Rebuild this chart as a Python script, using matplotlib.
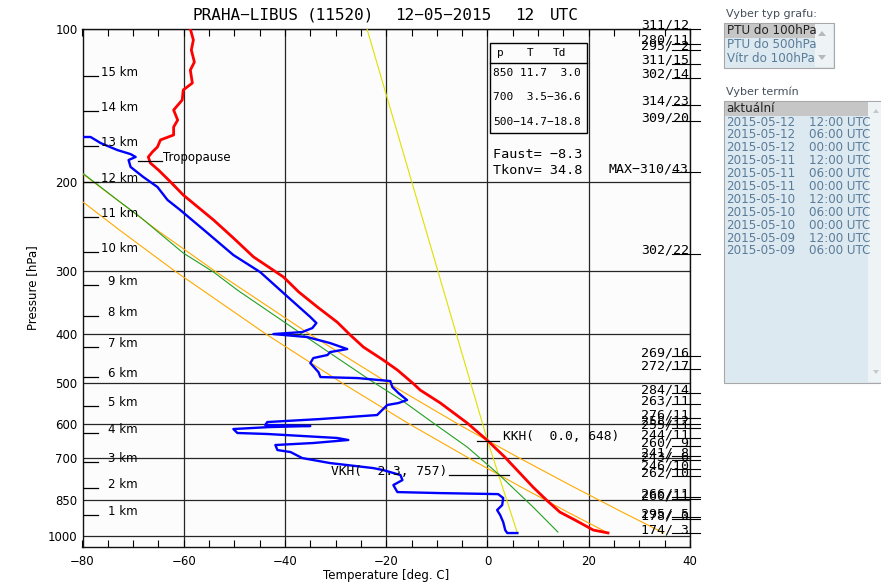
import matplotlib.pyplot as plt
from matplotlib.ticker import MultipleLocator, NullLocator
from matplotlib.patches import Rectangle, Polygon

# Sounding PRAHA-LIBUS (11520), 12-05-2015 12 UTC

# temperature profile (red)
temp_p = [100.0, 105.1, 110.0, 116.2, 120.5, 127.8, 131.9, 138.0, 144.5, 151.2,
          156.1, 161.8, 165.5, 170.9, 174.8, 178.8, 183.8, 189.7, 200.3, 212.5,
          238.1, 258.3, 281.6, 308.4, 330.0, 353.4, 378.5, 401.4, 424.0, 449.6,
          470.5, 500.0, 515.3, 546.6, 598.6, 648.0, 700.0, 800.8, 850.0, 897.0,
          930.0, 973.2, 986.0]
temp_t = [-58.7, -58.1, -58.5, -57.9, -58.7, -58.3, -60.1, -60.3, -62.0, -61.2,
          -62.0, -62.0, -64.6, -65.2, -66.2, -67.0, -66.6, -65.0, -62.6, -60.1,
          -54.1, -50.2, -46.2, -40.3, -37.3, -33.6, -29.7, -27.1, -24.5, -20.6,
          -17.8, -14.7, -13.3, -9.3, -4.0, 0.0, 3.5, 9.0, 11.7, 14.3,
          17.3, 20.9, 23.8]

# dew point profile (blue)
dew_p = [163.3, 163.3, 167.9, 173.3, 176.5, 178.8, 181.3, 187.1, 195.8, 204.9,
         217.4, 227.5, 252.6, 279.1, 301.6, 331.7, 355.0, 369.8, 380.1, 388.9,
         396.0, 399.6, 405.1, 416.3, 427.8, 433.7, 439.5, 445.6, 455.9, 474.9,
         485.8, 488.0, 494.7, 508.3, 522.3, 539.2, 546.6, 551.5, 577.2, 587.8,
         595.9, 604.0, 606.7, 609.6, 615.1, 626.3, 629.1, 640.6, 646.5, 655.4,
         661.4, 676.7, 682.9, 701.8, 717.9, 734.4, 741.1, 758.1, 775.5, 793.3,
         819.0, 822.8, 826.6, 841.4, 868.7, 888.6, 909.0, 938.5, 973.2, 986.5,
         986.5]
dew_t = [-80.0, -78.4, -76.4, -73.1, -70.5, -69.5, -70.9, -70.5, -68.0, -65.2,
         -63.2, -60.7, -55.3, -50.2, -44.9, -40.3, -37.0, -35.0, -33.8, -34.6,
         -36.6, -42.3, -35.6, -31.1, -27.7, -31.1, -31.6, -34.4, -35.0, -33.4,
         -33.0, -25.7, -19.2, -18.8, -17.6, -15.9, -17.6, -19.8, -21.8, -33.0,
         -43.5, -43.9, -35.0, -43.0, -50.2, -49.4, -43.5, -29.7, -27.5, -34.4,
         -41.9, -41.5, -38.9, -36.6, -31.1, -22.6, -20.6, -17.2, -16.8, -18.6,
         -17.8, -9.3, 2.1, 3.1, 2.9, 1.9, 2.5, 3.1, 3.5, 3.9,
         5.9]

# moist adiabat through the lifting condensation level (green)
moist_p = [192.3, 217.4, 234.9, 276.6, 301.6, 327.3, 400.0, 492.5, 539.2, 598.6,
           667.6, 757.0, 876.6, 981.9]
moist_t = [-80.0, -73.1, -68.6, -60.1, -54.1, -49.4, -36.6, -23.2, -17.0, -10.7,
           -4.0, 2.3, 9.0, 13.9]

# dry adiabats (orange): from surface temperature and from convective temperature
dry1_p = [986, 900, 800, 700, 600, 500, 400, 300, 250, 219]
dry1_t = [23.8, 16.1, 6.6, -3.9, -15.6, -28.6, -43.7, -61.8, -72.5, -80.0]
dry2_p = [986, 900, 800, 700, 648, 600, 500, 400, 300, 250, 193]
dry2_t = [34.8, 26.9, 17.0, 6.1, 0.0, -6.0, -19.5, -35.1, -53.9, -65.1, -80.0]

# mixing ratio line (yellow)
mix_p = [100, 648, 986.5]
mix_t = [-23.8, 0.0, 5.9]

# axes
p_levels = [100, 200, 300, 400, 500, 600, 700, 850, 1000]
t_major = [-80, -60, -40, -20, 0, 20, 40]

# height marks
km_labels = ['15 km', '14 km', '13 km', '12 km', '11 km', '10 km', '9 km', '8 km',
             '7 km', '6 km', '5 km', '4 km', '3 km', '2 km', '1 km']
km_p = [123.8, 145.1, 170.1, 200.3, 234.8, 275.3, 319.8, 368.2, 423.9, 485.8,
        554.1, 626.4, 714.5, 804.1, 908.9]

# wind (direction/speed) labels on the right
wind_labels = ['311/12', '280/11', '295/ 2', '311/15', '302/14', '314/23', '309/20',
               'MAX-310/43', '302/22', '269/16', '272/17', '284/14', '263/11',
               '276/11', '258/12', '255/11', '244/11', '260/ 9', '241/ 8', '243/ 6',
               '246/10', '262/10', '266/11', '260/11', '295/ 5', '178/ 0', '174/ 3']
wind_p = [100.0, 107.0, 110.0, 117.2, 124.9, 141.2, 151.9, 191.5, 277.8, 441.6,
          468.4, 522.4, 549.2, 585.3, 601.4, 612.4, 640.9, 664.6, 695.5, 708.2,
          737.8, 761.7, 837.8, 845.5, 917.5, 925.8, 986.5]

# table and indices
table_p = [850, 700, 500]
table_t = [11.7, 3.5, -14.7]
table_td = [3.0, -36.6, -18.8]
faust = -8.3
tkonv = 34.8
kkh_t, kkh_p = 0.0, 648
vkh_t, vkh_p = 2.3, 757
tropo_p = 182

graph_types = ['PTU do 100hPa', 'PTU do 500hPa', 'Vítr do 100hPa']
terms = ['2015-05-12', '2015-05-12', '2015-05-12', '2015-05-11', '2015-05-11',
         '2015-05-11', '2015-05-10', '2015-05-10', '2015-05-10', '2015-05-09',
         '2015-05-09']
term_hours = ['12:00 UTC', '06:00 UTC', '00:00 UTC', '12:00 UTC', '06:00 UTC',
              '00:00 UTC', '12:00 UTC', '06:00 UTC', '00:00 UTC', '12:00 UTC',
              '06:00 UTC']

MONO = 'DejaVu Sans Mono'


def mono(s):
    return s.replace('-', '\u2212')


W, H = 881, 586
fig = plt.figure(figsize=(W / 100, H / 100), dpi=100)
fig.patch.set_facecolor('white')


def box(l, t, r, b):
    return [l / W, 1 - b / H, (r - l) / W, (b - t) / H]


ax = fig.add_axes(box(82.5, 29, 690, 547))
ax.set_facecolor('#fcfcfc')
ax.set_yscale('log')
ax.set_xlim(-80, 40)
ax.set_ylim(1051, 100)
ax.set_yticks(p_levels)
ax.set_yticklabels([str(p) for p in p_levels])
ax.yaxis.set_minor_locator(NullLocator())
ax.set_xticks(t_major)
ax.xaxis.set_minor_locator(MultipleLocator(5))
ax.grid(True, which='major', color='#262626', lw=0.9)
ax.set_axisbelow(True)
ax.tick_params(axis='x', which='both', direction='in', top=True, bottom=True,
               length=5, width=0.8, pad=6, labelsize=8.5)
ax.tick_params(axis='y', which='both', length=0, pad=3.5, labelsize=8.5)
for s in ax.spines.values():
    s.set_linewidth(1.0)
    s.set_color('#111111')

# reference lines
ax.plot(mix_t, mix_p, color='#e0e000', lw=0.8, zorder=3)
ax.plot(dry1_t, dry1_p, color='#ffaa00', lw=0.8, zorder=3)
ax.plot(dry2_t, dry2_p, color='#ffaa00', lw=0.8, zorder=3)
ax.plot(moist_t, moist_p, color='#22a022', lw=0.8, zorder=3)

# profiles
ax.plot(temp_t, temp_p, color='#ff0000', lw=2.0, zorder=4)
ax.plot(dew_t, dew_p, color='#0000ff', lw=1.7, zorder=4)

# height marks
for lab, p in zip(km_labels, km_p):
    ax.plot([-80, -76.9], [p, p], color='black', lw=0.9, zorder=5)
    ax.text(-69.1, p, lab, ha='right', va='baseline', fontsize=8.5, zorder=5)

# tropopause
ax.plot([-69.1, -64.2], [tropo_p, tropo_p], color='black', lw=0.9, zorder=5)
ax.text(-64.0, tropo_p, 'Tropopause', ha='left', va='baseline', fontsize=8.5, zorder=5)

# winds
for lab, p in zip(wind_labels, wind_p):
    ax.plot([36.4, 42.0], [p, p], color='black', lw=0.8, clip_on=False, zorder=5)
    ax.text(39.8, p, mono(lab), ha='right', va='baseline', family=MONO,
            fontsize=9.5, clip_on=False, zorder=5)

# condensation levels
ax.plot([-2.0, 2.2], [kkh_p, kkh_p], color='black', lw=0.9, zorder=5)
ax.text(3.1, 637.7, mono(f"KKH({kkh_t:5.1f},{kkh_p:4d})"), ha='left', va='center',
        family=MONO, fontsize=9.3, zorder=5)
ax.plot([-7.7, 4.3], [vkh_p, vkh_p], color='black', lw=0.9, zorder=5)
ax.text(-8.0, 744.5, mono(f"VKH({vkh_t:5.1f},{vkh_p:4d})"), ha='right', va='center',
        family=MONO, fontsize=9.3, zorder=5)

fig.text(386 / W, 1 - 576 / H, 'Temperature [deg. C]', ha='center', va='center',
         fontsize=8.5)
fig.text(33 / W, 1 - 288 / H, 'Pressure [hPa]', ha='center', va='center',
         rotation=90, fontsize=8.5)

# overlay in pixel coordinates for the annotations and the side panel
ov = fig.add_axes([0, 0, 1, 1])
ov.set_xlim(0, W)
ov.set_ylim(H, 0)
ov.axis('off')

# title
for txt, x in zip(['PRAHA-LIBUS', '(11520)', '12-05-2015', '12', 'UTC'],
                  [193, 307, 395, 515, 550]):
    ov.text(x, 15, mono(txt), ha='left', va='center', family=MONO, fontsize=11.5)

# table
ov.add_patch(Rectangle((490, 43), 97, 90, fill=False, ec='black', lw=1.0))
ov.plot([490, 587], [63, 63], color='black', lw=1.0)
for txt, x in zip(['p', 'T', 'Td'], [500, 530, 560]):
    ov.text(x, 53, txt, ha='center', va='center', family=MONO, fontsize=8)
for i, (p, t, td) in enumerate(zip(table_p, table_t, table_td)):
    ov.text(493, [73, 97, 122][i], mono(f"{p:3d}{t:5.1f}{td:5.1f}"), ha='left',
            va='center', family=MONO, fontsize=8)
ov.text(493, 154, mono(f"Faust={faust:5.1f}"), ha='left', va='center', family=MONO,
        fontsize=9.7)
ov.text(493, 171, mono(f"Tkonv={tkonv:5.1f}"), ha='left', va='center', family=MONO,
        fontsize=9.7)

# side panel
lab_col = '#44505c'
item_col = '#5a7c98'
list_bg = '#dde9f1'
sel_bg = '#c6c6c6'

ov.text(726, 14, 'Vyber typ grafu:', ha='left', va='center', fontsize=8, color=lab_col)
ov.add_patch(Rectangle((724, 23), 110, 45, fc=list_bg, ec='#a8a8a8', lw=0.8))
ov.add_patch(Rectangle((725, 24), 90, 14, fc=sel_bg, ec='none'))
ov.add_patch(Rectangle((815, 24), 18, 43, fc='#eef3f6', ec='none'))
ov.add_patch(Polygon([(818, 36), (826, 36), (822, 31)], fc='#b8b8b8', ec='none'))
ov.add_patch(Polygon([(818, 55), (826, 55), (822, 60)], fc='#b8b8b8', ec='none'))
for i, name in enumerate(graph_types):
    ov.text(727, 31 + 14 * i, name, ha='left', va='center', fontsize=8.6,
            color='#222222' if i == 0 else item_col)

ov.text(726, 92, 'Vyber termín', ha='left', va='center', fontsize=8, color=lab_col)
ov.add_patch(Rectangle((724, 101), 170, 282, fc=list_bg, ec='#a8a8a8', lw=0.8))
ov.add_patch(Rectangle((725, 102), 143, 14, fc=sel_bg, ec='none'))
ov.add_patch(Rectangle((868, 102), 13, 280, fc='#eef3f6', ec='none'))
ov.add_patch(Polygon([(873, 113), (879, 113), (876, 109)], fc='#c8c8c8', ec='none'))
ov.add_patch(Polygon([(873, 370), (879, 370), (876, 374)], fc='#c8c8c8', ec='none'))
ov.text(726, 109, 'aktuální', ha='left', va='center', fontsize=8.6, color='#222222')
for i, (d, h) in enumerate(zip(terms, term_hours)):
    y = 122 + 12.9 * i
    ov.text(726, y, d, ha='left', va='center', fontsize=8.6, color=item_col)
    ov.text(809, y, h, ha='left', va='center', fontsize=8.6, color=item_col)

fig.savefig('out.png', dpi=100)
